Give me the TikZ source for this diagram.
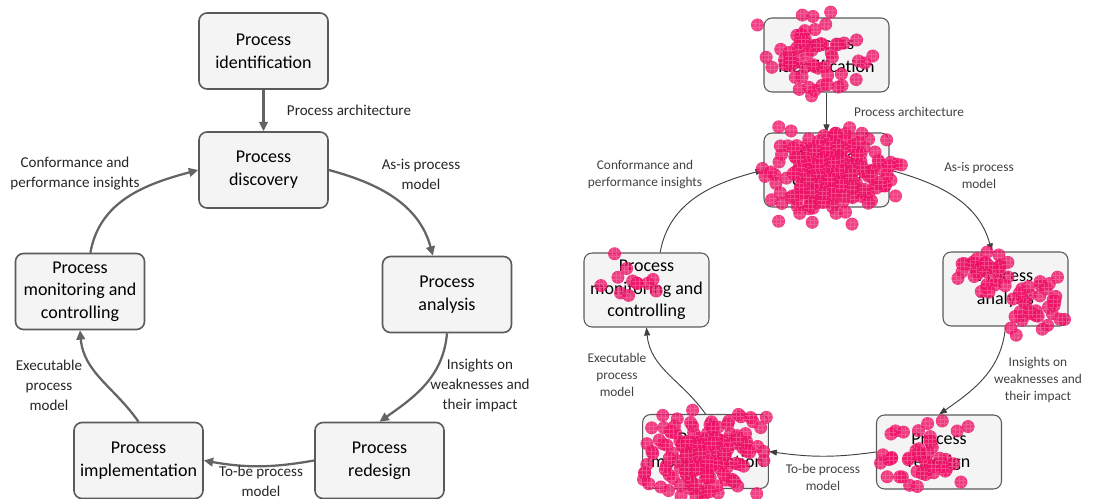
\documentclass[tikz,border=0pt]{standalone}
\usepackage{fontspec}
\setmainfont{Carlito}
\usepackage{tikz}
\usetikzlibrary{arrows.meta}
\definecolor{boxgray}{RGB}{90,90,90}
\definecolor{boxfill}{RGB}{244,244,244}
\definecolor{flowgray}{RGB}{100,100,100}
\definecolor{gazepink}{RGB}{238,16,102}

% cloud of gaze points: centre x, centre y, spread x, spread y, count
\newcommand{\gazecloud}[5]{%
  \foreach \k in {1,...,#5}{%
    \pgfmathsetmacro\gx{#1+#3*(rand+rand)/2}%
    \pgfmathsetmacro\gy{#2+#4*(rand+rand)/2}%
    \fill[gazedot] (\gx,\gy) circle (6.5);
    \draw[gazegrid] (\gx-2,\gy-5.5) -- ++(0,11) (\gx+2,\gy-5.5) -- ++(0,11)
                    (\gx-5.5,\gy-2) -- ++(11,0) (\gx-5.5,\gy+2) -- ++(11,0);
  }}

\begin{document}
\begin{tikzpicture}[
    x=0.75pt, y=0.75pt,
    every node/.style={align=center},
    stage/.style={draw=boxgray, fill=boxfill, line width=1.2pt, rounded corners=6pt,
                  minimum width=96.75pt, minimum height=57pt,
                  font=\fontsize{13.5}{17}\selectfont},
    stagesm/.style={stage, line width=.8pt, minimum width=93.75pt, minimum height=55.5pt},
    flow/.style={draw=flowgray, line width=1.7pt, -{Triangle[length=7pt,width=6.5pt]}},
    flowsm/.style={draw=black!75, line width=.7pt, -{Triangle[length=6pt,width=4.5pt]}},
    note/.style={font=\fontsize{11.3}{15}\selectfont, text=black!85},
    notesm/.style={font=\fontsize{10}{12.75}\selectfont, text=black!75},
    gazedot/.style={gazepink, opacity=.8},
    gazegrid/.style={gazepink!55!white, opacity=.5, line width=.35pt}
]
\useasboundingbox (0,0) rectangle (1118,499);

% left: lifecycle
\node[stage] (ident1) at (263.5,448) {Process\\identification};
\node[stage] (disc1) at (263.5,329) {Process\\discovery};
\node[stage] (anal1) at (447,204.5) {Process\\analysis};
\node[stage] (rede1) at (379.5,38.5) {Process\\redesign};
\node[stage] (impl1) at (138.5,38.5) {Process\\implementation};
\node[stage] (moni1) at (80,207.5) {Process\\monitoring and\\controlling};

\draw[flow] (ident1) -- (disc1);
\draw[flow] (disc1.east) to[out=-15, in=105] (anal1.110);
\draw[flow] (anal1.south) to[out=-95, in=35] (rede1.north);
\draw[flow] (rede1.west) to[out=190, in=-10] (impl1.east);
\draw[flow] (impl1.north) to[out=125, in=-85] (moni1.south);
\draw[flow] (moni1.75) to[out=80, in=195] (disc1.west);

\node[note] (arch1) at (349,389) {Process architecture};
\node[note] (conf1) at (75,325) {Conformance and\\performance insights};
\node[note] (asis1) at (421,325) {As-is process\\model};
\node[note] (ins1) at (480,114) {Insights on\\weaknesses and\\their impact};
\node[note] (tobe1) at (261,18) {To-be process\\model};
\node[note] (exec1) at (49,114) {Executable\\process\\model};

% right: same lifecycle with gaze points
\node[stagesm] (ident2) at (826.5,444) {Process\\identification};
\node[stagesm] (disc2) at (826.5,329) {Process\\discovery};
\node[stagesm] (anal2) at (1005.5,210) {Process\\analysis};
\node[stagesm] (rede2) at (939,47) {Process\\redesign};
\node[stagesm] (impl2) at (705.5,47.5) {Process\\implementation};
\node[stagesm] (moni2) at (646.5,209) {Process\\monitoring and\\controlling};

\draw[flowsm] (ident2) -- (disc2);
\draw[flowsm] (disc2.east) to[out=-15, in=105] (anal2.110);
\draw[flowsm] (anal2.south) to[out=-95, in=35] (rede2.north);
\draw[flowsm] (rede2.west) to[out=188, in=-8] (impl2.east);
\draw[flowsm] (impl2.north) to[out=125, in=-85] (moni2.south);
\draw[flowsm] (moni2.70) to[out=80, in=195] (disc2.west);

\node[notesm] (arch2) at (909,387) {Process architecture};
\node[notesm] (conf2) at (645,324) {Conformance and\\performance insights};
\node[notesm] (asis2) at (979,324) {As-is process\\model};
\node[notesm] (ins2) at (1038,119) {Insights on\\weaknesses and\\their impact};
\node[notesm] (tobe2) at (823,22) {To-be process\\model};
\node[notesm] (exec2) at (617,124) {Executable\\process\\model};

\pgfmathsetseed{4711}
\gazecloud{815}{446}{62}{44}{60}
\gazecloud{832}{324}{72}{54}{210}
\gazecloud{985}{228}{40}{30}{35}
\gazecloud{1040}{195}{36}{32}{35}
\gazecloud{628}{215}{35}{35}{12}
\gazecloud{705}{45}{72}{48}{150}
\gazecloud{925}{45}{50}{40}{45}
\end{tikzpicture}
\end{document}
